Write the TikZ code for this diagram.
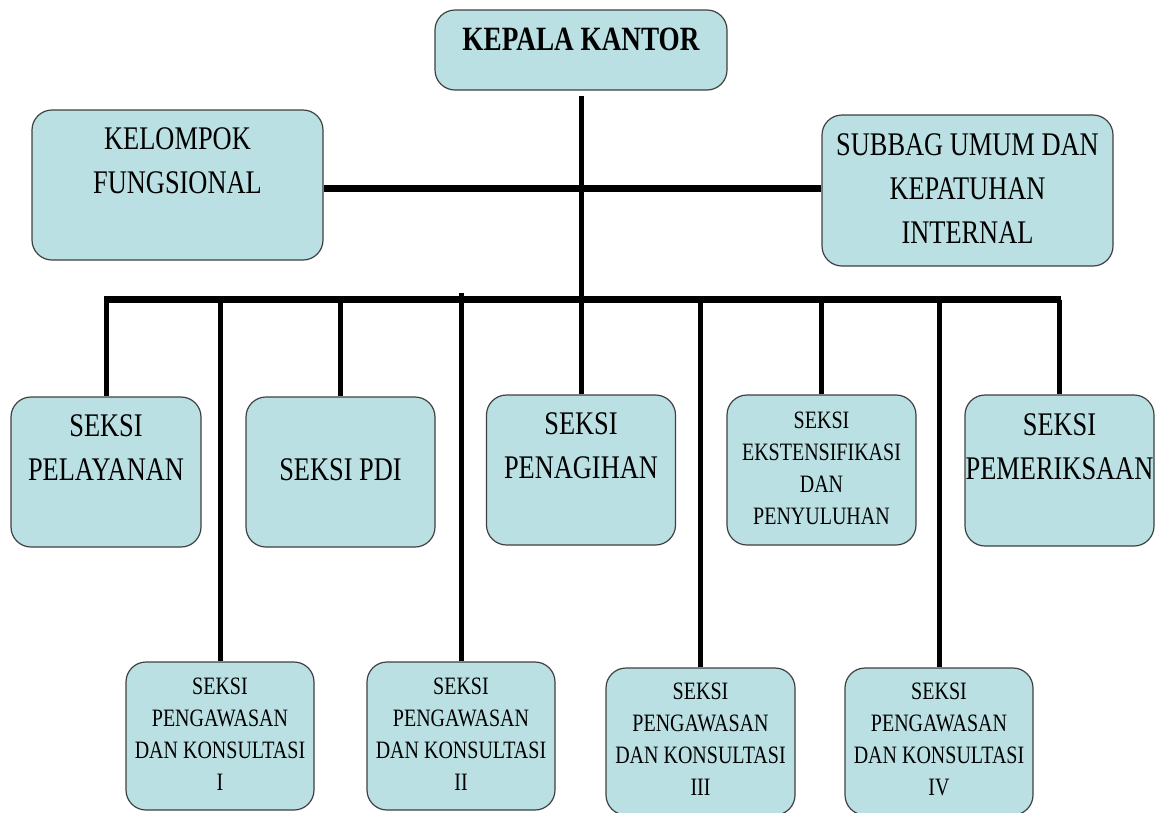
\documentclass[tikz,border=0pt]{standalone}
\usepackage{graphicx}
\usepackage{fontspec}
\newfontfamily\orgfont{Liberation Serif}
\newcommand{\lines}[1]{\scalebox{0.8}[1]{\begin{tabular}{@{}c@{}}#1\end{tabular}}}
\definecolor{boxfill}{RGB}{186,224,227}
\definecolor{boxline}{RGB}{64,64,64}

\begin{document}
\begin{tikzpicture}[x=1pt, y=-1pt,
    box/.style={draw=boxline, line width=1.2pt, fill=boxfill, rounded corners=20pt,
      align=center, inner sep=0pt},
    big/.style={box, font=\orgfont\fontsize{33}{44}\selectfont},
    small/.style={box, font=\orgfont\fontsize{25}{32}\selectfont},
    link/.style={line width=5pt},
    bus/.style={line width=7pt}]
    \useasboundingbox (0,0) rectangle (1163,812);
    % atas
    \node[big, minimum width=292pt, minimum height=80pt, text depth=22pt,
      font=\orgfont\bfseries\fontsize{34}{44}\selectfont] (kk) at (581,50) {\scalebox{0.8}[1]{KEPALA KANTOR}};
    \node[big, minimum width=291pt, minimum height=150pt] (kf) at (177.5,185) {\lines{KELOMPOK\\FUNGSIONAL\\~}};
    \node[big, minimum width=291pt, minimum height=151pt] (sub) at (967.5,190.5) {\lines{SUBBAG UMUM DAN\\KEPATUHAN\\INTERNAL}};
    % seksi
    \node[big, minimum width=190pt, minimum height=150pt] (pel) at (106,472) {\lines{SEKSI\\PELAYANAN\\~}};
    \node[big, minimum width=189pt, minimum height=150pt] (pdi) at (340.5,472) {\lines{SEKSI PDI}};
    \node[big, minimum width=189pt, minimum height=150pt] (pen) at (581,470) {\lines{SEKSI\\PENAGIHAN\\~}};
    \node[small, minimum width=189pt, minimum height=150pt] (eks) at (821.5,470) {\lines{SEKSI\\EKSTENSIFIKASI\\DAN\\PENYULUHAN}};
    \node[big, minimum width=189pt, minimum height=151pt] (pem) at (1059.5,470.5) {\lines{SEKSI\\PEMERIKSAAN\\~}};
    % pengawasan
    \node[small, minimum width=188pt, minimum height=148pt] (pk1) at (220,736) {\lines{SEKSI\\PENGAWASAN\\DAN KONSULTASI\\I}};
    \node[small, minimum width=188pt, minimum height=148pt] (pk2) at (461,736) {\lines{SEKSI\\PENGAWASAN\\DAN KONSULTASI\\II}};
    \node[small, minimum width=189pt, minimum height=147pt] (pk3) at (700.5,741.5) {\lines{SEKSI\\PENGAWASAN\\DAN KONSULTASI\\III}};
    \node[small, minimum width=188pt, minimum height=147pt] (pk4) at (939,741.5) {\lines{SEKSI\\PENGAWASAN\\DAN KONSULTASI\\IV}};
    % garis
    \coordinate (bl) at (103.5,299.5);
    \coordinate (br) at (1060.5,299.5);
    \coordinate (hub) at (581,188);
    \draw[link] ([yshift=-5pt]kk.south) -- (pen.north);
    \draw[bus] (kf.east |- hub) -- (sub.west |- hub);
    \draw[bus] (bl) -- (br);
    \foreach \n in {pel,pdi,eks,pem}
      \draw[link] (\n.north |- bl) -- (\n.north);
    \draw[link] (pk1.north |- bl) -- (pk1.north);
    \draw[link] (pk2.north |- 0,293) -- (pk2.north);
    \draw[link] (pk3.north |- bl) -- (pk3.north);
    \draw[link] (pk4.north |- bl) -- (pk4.north);
\end{tikzpicture}
\end{document}
